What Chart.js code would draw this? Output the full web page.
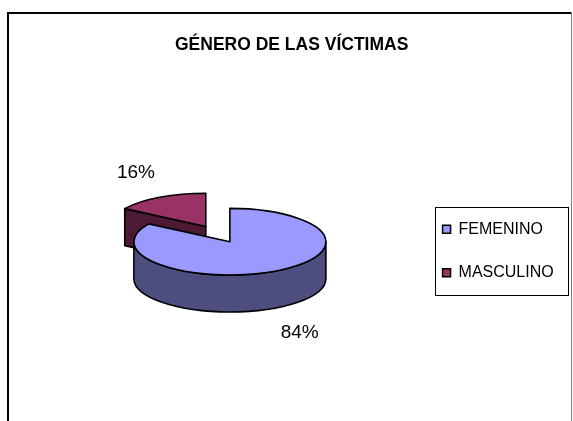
<!DOCTYPE html>
<html>
<head>
<meta charset="utf-8">
<script src="https://cdn.jsdelivr.net/npm/chart.js@4/dist/chart.umd.min.js"></script>
<style>
html,body{margin:0;padding:0;background:#fff;}
canvas{display:block;}
</style>
</head>
<body>
<canvas id="c" width="573" height="421"></canvas>
<script>
// ---- data ----
const categories = ['FEMENINO', 'MASCULINO'];
const values = [84, 16];
const sliceColors = ['#9999FF', '#993366'];
const chartTitle = 'GÉNERO DE LAS VÍCTIMAS';

const FONT = "'Liberation Sans', Arial, Helvetica, sans-serif";

function shade(hex, f) {
  const n = parseInt(hex.slice(1), 16);
  const r = Math.round(((n >> 16) & 255) * f);
  const g = Math.round(((n >> 8) & 255) * f);
  const b = Math.round((n & 255) * f);
  return 'rgb(' + r + ',' + g + ',' + b + ')';
}

// outer frame of the chart object
const framePlugin = {
  id: 'frame',
  beforeDraw(chart) {
    const ctx = chart.ctx;
    ctx.save();
    ctx.fillStyle = '#fff';
    ctx.fillRect(0, 0, chart.width, chart.height);
    ctx.fillStyle = '#000';
    ctx.fillRect(7, 12, 2, chart.height - 12);
    ctx.fillRect(7, 12, 564, 2);
    ctx.fillStyle = '#808080';
    ctx.fillRect(571, 12, 1, chart.height - 12);
    ctx.restore();
  }
};

// empty layout box on the left (white space of the plot area)
const spacerPlugin = {
  id: 'spacer',
  start(chart, args, opts) {
    const box = {
      position: 'left', fullSize: false, weight: 500, options: {},
      left: 0, top: 0, right: 0, bottom: 0, width: 0, height: 0,
      isHorizontal() { return false; },
      update(maxW, maxH) { this.width = opts.width || 0; this.height = maxH; return this.height; },
      draw() {}
    };
    Chart.layouts.addBox(chart, box);
  },
  defaults: { width: 0 }
};

// 3-D extrusion of the pie, drawn from the library's arc elements
const pie3dPlugin = {
  id: 'pie3d',
  beforeDatasetsDraw(chart, args, opts) {
    const ctx = chart.ctx;
    const meta = chart.getDatasetMeta(0);
    const k = opts.tilt, D = opts.depth, lift = opts.lift;
    const total = values.reduce((a, b) => a + b, 0);
    const slices = meta.data.map((arc, i) => {
      const p = arc.getProps(['x', 'y', 'startAngle', 'endAngle', 'outerRadius'], true);
      const mid = (p.startAngle + p.endAngle) / 2;
      const ex = Math.cos(mid) * (opts.explode[i] || 0);
      const ey = Math.sin(mid) * (opts.explode[i] || 0);
      return { arc, i, p, mid, ex, ey, cx: p.x + ex, cy: p.y - lift + k * ey, R: p.outerRadius };
    });
    ctx.save();
    ctx.lineWidth = opts.lineWidth;
    ctx.lineJoin = 'round';
    ctx.strokeStyle = '#000';
    const order = slices.slice().sort((a, b) => a.cy - b.cy);
    for (const s of order) {
      const top = s.arc.options.backgroundColor;
      const side = shade(top, opts.shade);
      const a0 = s.p.startAngle, a1 = s.p.endAngle;
      const { cx, cy, R } = s;
      // radial cut faces
      const faces = [];
      if (Math.cos(a0) < -1e-6) faces.push(a0);
      if (Math.cos(a1) > 1e-6) faces.push(a1);
      for (const a of faces) {
        const px = cx + R * Math.cos(a), py = cy + k * R * Math.sin(a);
        ctx.beginPath();
        ctx.moveTo(cx, cy);
        ctx.lineTo(px, py);
        ctx.lineTo(px, py + D);
        ctx.lineTo(cx, cy + D);
        ctx.closePath();
        ctx.fillStyle = side;
        ctx.fill();
        ctx.stroke();
      }
      // outer curved wall (front half only)
      const TAU = Math.PI * 2;
      for (let n = Math.floor(a0 / TAU) - 1; n <= Math.ceil(a1 / TAU) + 1; n++) {
        const lo = Math.max(a0, n * TAU), hi = Math.min(a1, n * TAU + Math.PI);
        if (hi - lo < 1e-4) continue;
        ctx.beginPath();
        ctx.ellipse(cx, cy, R, k * R, 0, lo, hi, false);
        ctx.lineTo(cx + R * Math.cos(hi), cy + k * R * Math.sin(hi) + D);
        ctx.ellipse(cx, cy + D, R, k * R, 0, hi, lo, true);
        ctx.closePath();
        ctx.fillStyle = side;
        ctx.fill();
        ctx.stroke();
      }
      // top face: drawn by the arc element itself, squashed
      ctx.save();
      ctx.translate(s.ex, cy - k * s.p.y);
      ctx.scale(1, k);
      s.arc.draw(ctx);
      ctx.beginPath();
      ctx.moveTo(s.p.x, s.p.y);
      ctx.arc(s.p.x, s.p.y, R, a0, a1);
      ctx.closePath();
      ctx.restore();
      ctx.stroke();
    }
    // percentage labels
    ctx.fillStyle = '#000';
    ctx.font = opts.labelFont;
    ctx.textAlign = 'center';
    ctx.textBaseline = 'middle';
    for (const s of slices) {
      const L = s.R + opts.labelGap;
      const sn = Math.sin(s.mid);
      const x = s.cx + Math.cos(s.mid) * L;
      let y = s.cy + k * sn * L;
      y += sn > 0 ? D + opts.labelHalf : -opts.labelHalf;
      ctx.fillText(Math.round(values[s.i] / total * 100) + '%', x, y);
    }
    ctx.restore();
    return false;
  },
  defaults: {}
};

// border around the legend
const legendBoxPlugin = {
  id: 'legendBox',
  afterDraw(chart, args, opts) {
    const lg = chart.legend;
    if (!lg || !lg.legendHitBoxes || !lg.legendHitBoxes.length) return;
    const hb = lg.legendHitBoxes;
    const x0 = Math.min(...hb.map(h => h.left)) - opts.padLeft;
    const x1 = Math.max(...hb.map(h => h.left + h.width)) + opts.padRight;
    const y0 = hb[0].top - opts.padY;
    const y1 = hb[hb.length - 1].top + hb[hb.length - 1].height + opts.padY;
    const ctx = chart.ctx;
    ctx.save();
    ctx.strokeStyle = '#000';
    ctx.lineWidth = 1;
    ctx.strokeRect(Math.round(x0) + 0.5, Math.round(y0) + 0.5, Math.round(x1 - x0), Math.round(y1 - y0));
    ctx.restore();
  },
  defaults: {}
};

new Chart(document.getElementById('c'), {
  type: 'pie',
  data: {
    labels: categories,
    datasets: [{
      data: values,
      backgroundColor: sliceColors,
      borderWidth: 0,
      radius: 96
    }]
  },
  options: {
    responsive: false,
    animation: false,
    devicePixelRatio: 1,
    layout: { padding: { top: 20, left: 19.6, right: 9.3, bottom: 0 } },
    plugins: {
      spacer: { width: 25 },
      title: {
        display: true,
        text: chartTitle,
        color: '#000',
        font: { family: FONT, size: 17.5, weight: 'bold' },
        padding: { top: 15, bottom: 25 }
      },
      legend: {
        position: 'right',
        fullSize: false,
        align: 'center',
        maxWidth: 300,
        labels: {
          boxWidth: 8,
          boxHeight: 8,
          padding: 27.4,
          color: '#000',
          font: { family: FONT, size: 16 },
          generateLabels(chart) {
            const ds = chart.data.datasets[0];
            return chart.data.labels.map((t, i) => ({
              text: t, fillStyle: ds.backgroundColor[i], strokeStyle: '#000',
              lineWidth: 1.5, fontColor: '#000', hidden: false, index: i
            }));
          }
        }
      },
      tooltip: { enabled: false },
      pie3d: {
        tilt: 0.347, depth: 37, lift: 9.3, explode: [0, 50],
        shade: 0.5, lineWidth: 1.6,
        labelGap: 49, labelHalf: 10,
        labelFont: "19px 'Liberation Sans', Arial, sans-serif"
      },
      legendBox: { padLeft: 7.7, padRight: 14, padY: 14.5 }
    }
  },
  plugins: [framePlugin, spacerPlugin, pie3dPlugin, legendBoxPlugin]
});
</script>
</body>
</html>
